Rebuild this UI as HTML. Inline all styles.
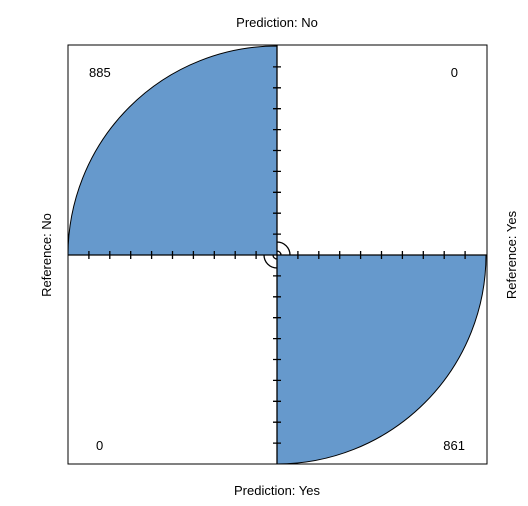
<!DOCTYPE html>
<html><head><meta charset="utf-8"><style>body{margin:0;background:#fff}svg{display:block}text{font-family:"Liberation Sans",sans-serif;font-size:13px;fill:#000}</style></head>
<body>
<svg id="c" width="528" height="506">
<rect x="68" y="45" width="419" height="419" fill="none" stroke="#000"/>
<g id="q"></g>
<g id="ax"></g>
<text x="277" y="27" text-anchor="middle">Prediction: No</text>
<text x="277" y="495" text-anchor="middle">Prediction: Yes</text>
<text transform="translate(51,255) rotate(-90)" text-anchor="middle">Reference: No</text>
<text transform="translate(516,255) rotate(-90)" text-anchor="middle">Reference: Yes</text>
<text id="t0" x="89" y="77"></text>
<text id="t1" x="458" y="77" text-anchor="end"></text>
<text id="t2" x="96" y="450"></text>
<text id="t3" x="465" y="450" text-anchor="end"></text>
</svg>
<script>
const cells=["top-left","top-right","bottom-left","bottom-right"];
const counts=[885,0,0,861];
const cx=277,cy=255,R=209;
const ns="http://www.w3.org/2000/svg";
const dirs=[[-1,-1],[1,-1],[-1,1],[1,1]];
const q=document.getElementById('q');
counts.forEach((v,i)=>{
  document.getElementById('t'+i).textContent=v;
  const row=i<2?[counts[0],counts[1]]:[counts[2],counts[3]];
  const m=Math.max(...row);
  const r=m>0?R*Math.sqrt(v/m):0;
  if(r<=0)return;
  const [dx,dy]=dirs[i];
  const p=document.createElementNS(ns,'path');
  p.setAttribute('d',`M${cx},${cy} L${cx+dx*r},${cy} A${r},${r} 0 0 ${dx*dy>0?1:0} ${cx},${cy+dy*r} Z`);
  p.setAttribute('fill','#6699cc');
  p.setAttribute('stroke','#000');
  
  
  q.appendChild(p);
});
const ax=document.getElementById('ax');
let d=`M68,${cy}H487M${cx},45V464`;
for(let k=1;k<=9;k++){const s=k*R/10;
 d+=`M${cx-s},${cy-4}v8M${cx+s},${cy-4}v8M${cx-4},${cy-s}h8M${cx-4},${cy+s}h8`;}
d+=`M${cx},${cy-13}A13,13 0 0 1 ${cx+13},${cy}M${cx},${cy-4}A4,4 0 0 1 ${cx+4},${cy}`;
d+=`M${cx},${cy+13}A13,13 0 0 1 ${cx-13},${cy}M${cx},${cy+4}A4,4 0 0 1 ${cx-4},${cy}`;
const a=document.createElementNS(ns,'path');
a.setAttribute('d',d);a.setAttribute('stroke','#000');a.setAttribute('fill','none');a.setAttribute('stroke-width','1.3');


ax.appendChild(a);
</script>
</body></html>
